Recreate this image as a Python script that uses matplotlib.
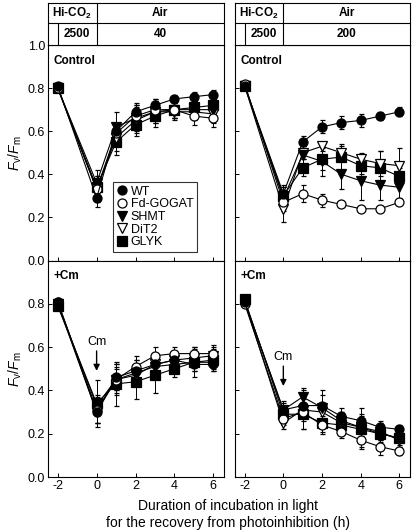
import matplotlib
matplotlib.use("Agg")
import matplotlib.pyplot as plt
import numpy as np
from matplotlib.lines import Line2D

plt.rcParams['font.family'] = ['Liberation Sans', 'DejaVu Sans']
plt.rcParams['mathtext.fontset'] = 'custom'
plt.rcParams['mathtext.rm'] = 'Liberation Sans'
plt.rcParams['mathtext.it'] = 'Liberation Sans:italic'
plt.rcParams['mathtext.bf'] = 'Liberation Sans:bold'
plt.rcParams['axes.unicode_minus'] = False

hours = [-2, 0, 1, 2, 3, 4, 5, 6]
lines = ['WT', 'Fd-GOGAT', 'SHMT', 'DiT2', 'GLYK']

# Air 40, Control
c40_mean = {
    'WT':       [0.81, 0.29, 0.60, 0.69, 0.72, 0.75, 0.76, 0.77],
    'Fd-GOGAT': [0.80, 0.33, 0.59, 0.67, 0.70, 0.70, 0.67, 0.66],
    'SHMT':     [0.80, 0.36, 0.62, 0.66, 0.69, 0.70, 0.70, 0.70],
    'DiT2':     [0.80, 0.33, 0.57, 0.65, 0.69, 0.69, 0.69, 0.68],
    'GLYK':     [0.80, 0.34, 0.55, 0.63, 0.67, 0.70, 0.71, 0.72],
}
c40_err = {
    'WT':       [0.01, 0.04, 0.04, 0.04, 0.03, 0.02, 0.02, 0.02],
    'Fd-GOGAT': [0.01, 0.05, 0.05, 0.05, 0.05, 0.04, 0.04, 0.04],
    'SHMT':     [0.01, 0.06, 0.07, 0.06, 0.05, 0.04, 0.04, 0.03],
    'DiT2':     [0.01, 0.06, 0.06, 0.06, 0.05, 0.04, 0.04, 0.04],
    'GLYK':     [0.01, 0.05, 0.06, 0.05, 0.05, 0.04, 0.03, 0.03],
}
# Air 200, Control
c200_mean = {
    'WT':       [0.81, 0.31, 0.55, 0.62, 0.64, 0.65, 0.67, 0.69],
    'Fd-GOGAT': [0.82, 0.27, 0.31, 0.28, 0.26, 0.24, 0.24, 0.27],
    'SHMT':     [0.81, 0.29, 0.49, 0.46, 0.40, 0.37, 0.35, 0.34],
    'DiT2':     [0.81, 0.24, 0.50, 0.53, 0.50, 0.47, 0.45, 0.44],
    'GLYK':     [0.81, 0.30, 0.43, 0.47, 0.48, 0.44, 0.43, 0.39],
}
c200_err = {
    'WT':       [0.01, 0.03, 0.03, 0.03, 0.03, 0.03, 0.02, 0.02],
    'Fd-GOGAT': [0.01, 0.04, 0.04, 0.03, 0.01, 0.01, 0.01, 0.01],
    'SHMT':     [0.01, 0.05, 0.04, 0.07, 0.07, 0.09, 0.07, 0.05],
    'DiT2':     [0.01, 0.06, 0.03, 0.02, 0.03, 0.03, 0.06, 0.08],
    'GLYK':     [0.01, 0.05, 0.04, 0.05, 0.06, 0.04, 0.08, 0.04],
}
# Air 40, +Cm
m40_mean = {
    'WT':       [0.81, 0.30, 0.46, 0.49, 0.52, 0.54, 0.52, 0.52],
    'Fd-GOGAT': [0.81, 0.31, 0.45, 0.51, 0.56, 0.57, 0.57, 0.57],
    'SHMT':     [0.80, 0.33, 0.45, 0.48, 0.51, 0.52, 0.53, 0.53],
    'DiT2':     [0.80, 0.30, 0.45, 0.47, 0.52, 0.54, 0.55, 0.56],
    'GLYK':     [0.79, 0.34, 0.43, 0.44, 0.47, 0.50, 0.53, 0.54],
}
m40_err = {
    'WT':       [0.01, 0.05, 0.06, 0.05, 0.04, 0.03, 0.03, 0.03],
    'Fd-GOGAT': [0.01, 0.06, 0.05, 0.05, 0.04, 0.03, 0.03, 0.04],
    'SHMT':     [0.01, 0.05, 0.07, 0.06, 0.05, 0.04, 0.04, 0.03],
    'DiT2':     [0.01, 0.05, 0.06, 0.05, 0.05, 0.04, 0.04, 0.04],
    'GLYK':     [0.01, 0.11, 0.10, 0.08, 0.08, 0.04, 0.07, 0.05],
}
# Air 200, +Cm
m200_mean = {
    'WT':       [0.81, 0.31, 0.33, 0.33, 0.28, 0.26, 0.23, 0.22],
    'Fd-GOGAT': [0.80, 0.27, 0.30, 0.24, 0.21, 0.17, 0.14, 0.12],
    'SHMT':     [0.81, 0.31, 0.37, 0.32, 0.26, 0.23, 0.20, 0.18],
    'DiT2':     [0.81, 0.25, 0.31, 0.30, 0.25, 0.23, 0.21, 0.17],
    'GLYK':     [0.82, 0.29, 0.29, 0.25, 0.24, 0.22, 0.20, 0.18],
}
m200_err = {
    'WT':       [0.01, 0.03, 0.04, 0.05, 0.04, 0.03, 0.03, 0.02],
    'Fd-GOGAT': [0.01, 0.03, 0.04, 0.03, 0.03, 0.04, 0.04, 0.02],
    'SHMT':     [0.01, 0.04, 0.04, 0.08, 0.04, 0.05, 0.04, 0.03],
    'DiT2':     [0.01, 0.03, 0.09, 0.04, 0.04, 0.09, 0.04, 0.03],
    'GLYK':     [0.01, 0.04, 0.07, 0.05, 0.03, 0.03, 0.03, 0.02],
}

styles = {
    'WT':       dict(marker='o', mfc='black'),
    'Fd-GOGAT': dict(marker='o', mfc='white'),
    'SHMT':     dict(marker='v', mfc='black'),
    'DiT2':     dict(marker='v', mfc='white'),
    'GLYK':     dict(marker='s', mfc='black'),
}
draw_order = ['GLYK', 'DiT2', 'SHMT', 'Fd-GOGAT', 'WT']

W, H = 414, 532
fig = plt.figure(figsize=(W / 100, H / 100), dpi=100)

def frac(x0, y0, x1, y1):
    return [x0 / W, 1 - y1 / H, (x1 - x0) / W, (y1 - y0) / H]

cols = [(48, 224), (235, 410)]
rows = [(45, 260.5), (260.5, 477)]
XL = (-2.5, 6.55)

panels = [
    (0, 0, c40_mean, c40_err, 'Control'),
    (0, 1, c200_mean, c200_err, 'Control'),
    (1, 0, m40_mean, m40_err, '+Cm'),
    (1, 1, m200_mean, m200_err, '+Cm'),
]

axes = {}
for r, c, mean, err, label in panels:
    ax = fig.add_axes(frac(cols[c][0], rows[r][0], cols[c][1], rows[r][1]))
    axes[(r, c)] = ax
    for name in draw_order:
        st = styles[name]
        ax.errorbar(hours, mean[name], yerr=err[name], color='black',
                    marker=st['marker'], mfc=st['mfc'], mec='black',
                    ms=6.5, mew=0.9, lw=0.8, elinewidth=0.7, capsize=1.8,
                    capthick=0.7, label=name, zorder=3)
    ax.set_xlim(*XL)
    ax.set_ylim(0, 1.0)
    ax.set_xticks([-2, 0, 2, 4, 6])
    if r == 0:
        ax.set_yticks([0, 0.2, 0.4, 0.6, 0.8, 1.0])
    else:
        ax.set_yticks([0, 0.2, 0.4, 0.6, 0.8])
    ax.tick_params(direction='in', length=3, width=0.7, labelsize=9,
                   pad=2)
    for s in ax.spines.values():
        s.set_linewidth(0.8)
    if r == 0:
        ax.tick_params(labelbottom=False)
    if c == 1:
        ax.tick_params(labelleft=False)
    else:
        ax.yaxis.set_major_formatter(matplotlib.ticker.FormatStrFormatter('%.1f'))
        ax.set_ylabel(r'$\mathit{F}_\mathrm{v}/\mathit{F}_\mathrm{m}$',
                      fontsize=10, labelpad=3)
    ax.text(0.03, 0.955, label, transform=ax.transAxes, fontsize=8.5,
            fontweight='bold', va='top', ha='left')

# Legend in top-left panel
ax = axes[(0, 0)]
handles = [Line2D([], [], ls='none', marker=styles[n]['marker'],
                  mfc=styles[n]['mfc'], mec='black', color='black',
                  ms=6.5, mew=0.9) for n in lines]
leg = ax.legend(handles, lines, loc='lower left', bbox_to_anchor=(0.37, 0.04),
                fontsize=9, frameon=True, fancybox=False, edgecolor='black',
                handlelength=0.8, handletextpad=0.3, labelspacing=0.05,
                borderpad=0.3, borderaxespad=0)
leg.get_frame().set_linewidth(0.8)

# Cm arrows
axes[(1, 0)].annotate('Cm', xy=(0, 0.49), xytext=(0, 0.595), ha='center',
                      va='bottom', fontsize=9,
                      arrowprops=dict(arrowstyle='-|>', color='black', lw=1.0,
                                      mutation_scale=9, shrinkA=0, shrinkB=0))
axes[(1, 1)].annotate('Cm', xy=(0, 0.42), xytext=(0, 0.525), ha='center',
                      va='bottom', fontsize=9,
                      arrowprops=dict(arrowstyle='-|>', color='black', lw=1.0,
                                      mutation_scale=9, shrinkA=0, shrinkB=0))

# Header tables
headers = ['40', '200']
for c, air_val in enumerate(headers):
    hx = fig.add_axes(frac(cols[c][0], 3, cols[c][1], 45))
    hx.set_xlim(*XL)
    hx.set_ylim(0, 42)
    hx.set_xticks([])
    hx.set_yticks([])
    for s in hx.spines.values():
        s.set_linewidth(0.8)
    hx.plot(XL, [22.5, 22.5], color='black', lw=0.8)
    hx.plot([0, 0], [0, 42], color='black', lw=0.8)
    hx.plot([-2, -2], [0, 22.5], color='black', lw=0.8)
    hx.text(-1.25, 32, r'Hi-CO$_\mathbf{2}$', ha='center', va='center',
            fontsize=8.5, fontweight='bold')
    hx.text((0 + XL[1]) / 2, 32, 'Air', ha='center', va='center',
            fontsize=8.5, fontweight='bold')
    hx.text(-1, 11, '2500', ha='center', va='center', fontsize=8.5,
            fontweight='bold')
    hx.text((0 + XL[1]) / 2, 11, air_val, ha='center', va='center',
            fontsize=8.5, fontweight='bold')

fig.text(228 / W, 1 - 506 / H, 'Duration of incubation in light',
         ha='center', va='center', fontsize=10)
fig.text(228 / W, 1 - 523 / H, 'for the recovery from photoinhibition (h)',
         ha='center', va='center', fontsize=10)

fig.savefig('out.png', dpi=100)
